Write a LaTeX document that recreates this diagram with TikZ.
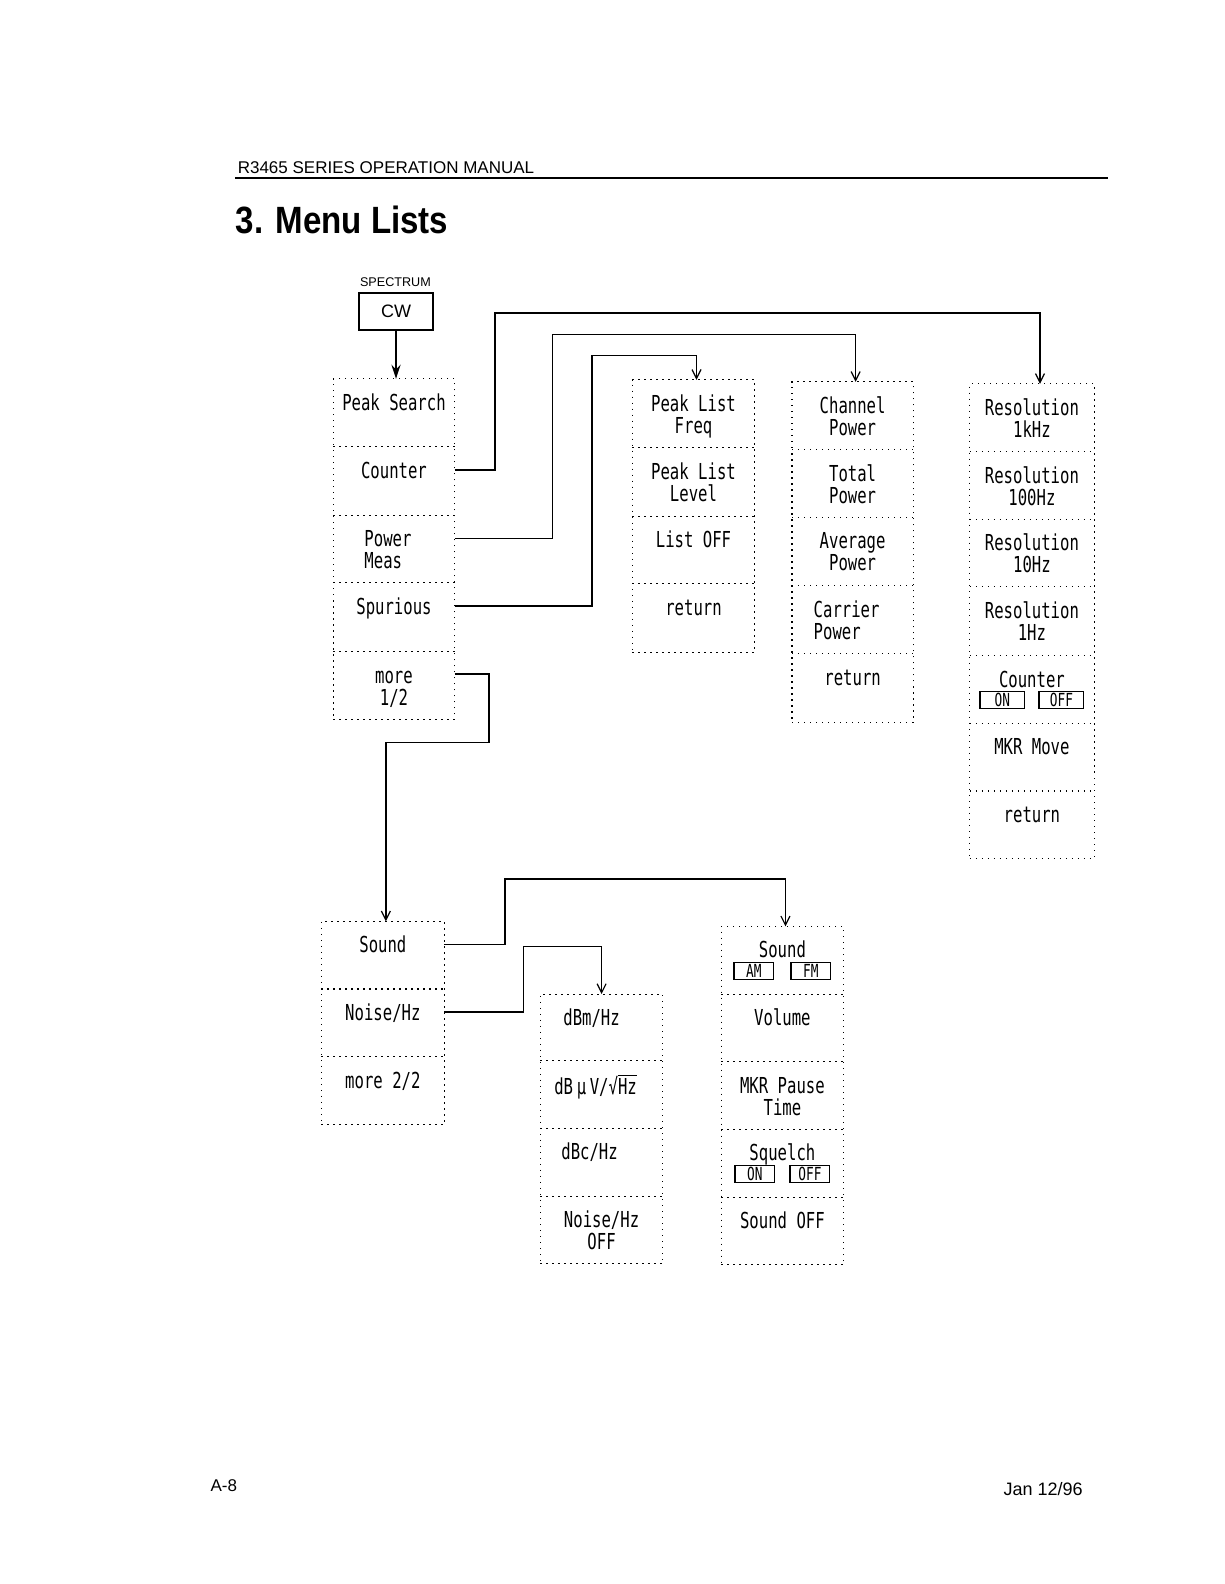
\documentclass[tikz,border=0pt]{standalone}
\usepackage{fontspec}
\setmainfont{Liberation Sans}
\newfontfamily\menufont[FakeStretch=0.71]{DejaVu Sans Mono}
\newfontfamily\titlefont[FakeStretch=0.87]{Liberation Sans}
\usetikzlibrary{fit,calc,arrows.meta}
\newcommand\mstrut{\rule{0pt}{9pt}}
\setlength\fboxsep{0.3pt}
\setlength\fboxrule{0.6pt}
\lineskiplimit=-20pt
\newcommand\bx[2][20.5pt]{\framebox[#1][c]{\fontsize{9}{9}\selectfont\rule[-0.6pt]{0pt}{6.9pt}#2}}
\newcommand\menusize{\menufont\fontsize{11}{11.1}\selectfont}
\tikzset{
  dotline/.style={dash pattern=on 0.7pt off 2.3pt, line width=0.55pt},
  cell/.style={inner sep=0pt, outer sep=0pt},
  column/.style={draw, dotline, inner sep=0pt, outer sep=0pt},
  mtext/.style={anchor=north, inner sep=0pt, align=center, font=\menusize},
  conn/.style={line width=0.75pt},
  arr/.style={-{Straight Barb[length=4.5pt,width=4.5pt,line width=0.6pt]}},
  pagetext/.style={anchor=base west, inner sep=0pt},
}
% #1 text options, #2 name, #3-#6 corners, #7 text
\newcommand\mcell[7][]{%
  \node[cell, fit={(#3,#4)(#5,#6)}] (#2) {};
  \node[mtext,#1] (#2t) at ($(#2.north)+(0,13)$) {\mstrut #7};
}
% #1 column name, #2 first cell, #3 last cell, #4 list of cells with a separator below
\newcommand\mcolumn[4]{%
  \node[column, fit=(#2)(#3)] (#1) {};
  \foreach \c in {#4} {\draw[dotline] (\c.south west) -- (\c.south east);}
}
\begin{document}
\begin{tikzpicture}[x=0.505pt,y=-0.505pt]
\fill[white] (0,0) rectangle (1212,1568);
\useasboundingbox (0,0) rectangle (1212,1568);

% header
\node[pagetext, font=\fontsize{8.5}{10}\selectfont] (hdr) at (235,172) {R3465 SERIES OPERATION MANUAL};
\draw[line width=0.8pt] (233,176) -- (1097,176);
\node[pagetext, font=\titlefont\bfseries\fontsize{19}{22}\selectfont] (title) at (233,231) {3. Menu Lists};

% CW key
\node[pagetext, font=\fontsize{6.3}{7}\selectfont] (spec) at (356,284) {SPECTRUM};
\node[draw, line width=0.9pt, inner sep=0pt, minimum width={74*0.505pt}, minimum height={37*0.505pt},
      font=\fontsize{9}{10}\selectfont] (cw) at (392,308.5) {CW};

% column A
\mcell{ps}{330}{375}{450}{442}{Peak Search}
\mcell{cnt}{330}{442}{450}{510}{Counter}
\mcell[align=left, xshift=-3pt]{pm}{330}{510}{450}{577}{Power\\Meas}
\mcell{spu}{330}{577}{450}{645}{Spurious}
\mcell{moa}{330}{645}{450}{712}{more\\1/2}
\mcolumn{colA}{ps}{moa}{ps,cnt,pm,spu}

% column B
\mcell{pla}{626}{376}{747}{443}{Peak List\\Freq}
\mcell{plb}{626}{443}{747}{511}{Peak List\\Level}
\mcell{plc}{626}{511}{747}{578}{List OFF}
\mcell{pld}{626}{578}{747}{646}{return}
\mcolumn{colB}{pla}{pld}{pla,plb,plc}

% column C
\mcell{cha}{784}{378}{904}{445}{Channel\\Power}
\mcell{chb}{784}{445}{904}{512}{Total\\Power}
\mcell{chc}{784}{512}{904}{580}{Average\\Power}
\mcell[align=left, xshift=-3pt]{chd}{784}{580}{904}{647}{Carrier\\Power}
\mcell{che}{784}{647}{904}{715}{return}
\mcolumn{colC}{cha}{che}{cha,chb,chc,chd}

% column D
\mcell{rsa}{960}{380}{1083}{447}{Resolution\\1kHz}
\mcell{rsb}{960}{447}{1083}{514}{Resolution\\100Hz}
\mcell{rsc}{960}{514}{1083}{581}{Resolution\\10Hz}
\mcell{rsd}{960}{581}{1083}{649}{Resolution\\1Hz}
\mcell{rse}{960}{649}{1083}{716}{Counter\\[-1.55pt]\bx[23pt]{ON}\hspace{6.5pt}\bx[23pt]{OFF}}
\mcell{rsf}{960}{716}{1083}{783}{MKR Move}
\mcell{rsg}{960}{783}{1083}{850}{return}
\mcolumn{colD}{rsa}{rsg}{rsa,rsb,rsc,rsd,rse,rsf}

% column E
\mcell{sda}{318}{912}{440}{979}{Sound}
\mcell{sdb}{318}{979}{440}{1046}{Noise/Hz}
\mcell{sdc}{318}{1046}{440}{1113}{more 2/2}
\mcolumn{colE}{sda}{sdc}{sda,sdb}

% column F
\mcell[xshift=-5pt]{dfa}{535}{984}{656}{1050}{dBm/Hz}
\mcell[xshift=-3pt]{dfb}{535}{1050}{656}{1117}{dB\,μ\,V/√$\overline{\hbox{Hz}}$}
\mcell[xshift=-6pt]{dfc}{535}{1117}{656}{1184}{dBc/Hz}
\mcell{dfd}{535}{1184}{656}{1251}{Noise/Hz\\OFF}
\mcolumn{colF}{dfa}{dfd}{dfa,dfb,dfc}

% column G
\mcell{sga}{714}{917}{835}{984}{Sound\\[-1.55pt]\bx{AM}\hspace{8pt}\bx{FM}}
\mcell{sgb}{714}{984}{835}{1051}{Volume}
\mcell{sgc}{714}{1051}{835}{1118}{MKR Pause\\Time}
\mcell{sgd}{714}{1118}{835}{1185}{Squelch\\[-1.55pt]\bx{ON}\hspace{7pt}\bx{OFF}}
\mcell{sge}{714}{1185}{835}{1252}{Sound OFF}
\mcolumn{colG}{sga}{sge}{sga,sgb,sgc,sgd}

% footer
\node[pagetext, font=\fontsize{8.5}{10}\selectfont] (pg) at (208,1476) {A-8};
\node[pagetext, font=\fontsize{9}{10}\selectfont] (date) at (993,1480) {Jan 12/96};

% connectors
\draw[line width=1.1pt, -{Stealth[length=7pt,width=4.5pt]}] (cw.south) -- (cw.south |- colA.north);
\draw[conn, arr] ($(cnt.north east)+(0,23)$) -| (490,310) -| ($(colD.north)+(8,0)$);
\draw[conn, arr] ($(pm.north east)+(0,23)$) -| (547,331) -| ($(colC.north)+(3,0)$);
\draw[conn, arr] ($(spu.north east)+(0,23)$) -| (586,352) -| ($(colB.north)+(3,0)$);
\draw[conn, arr] ($(moa.north east)+(0,22)$) -| (484,735) -| ($(colE.north)+(3,0)$);
\draw[conn, arr] ($(sda.north east)+(0,23)$) -| (500,870) -| ($(colG.north)+(3,0)$);
\draw[conn, arr] ($(sdb.north east)+(0,23)$) -| (518,937) -| (colF.north);
\end{tikzpicture}
\end{document}
